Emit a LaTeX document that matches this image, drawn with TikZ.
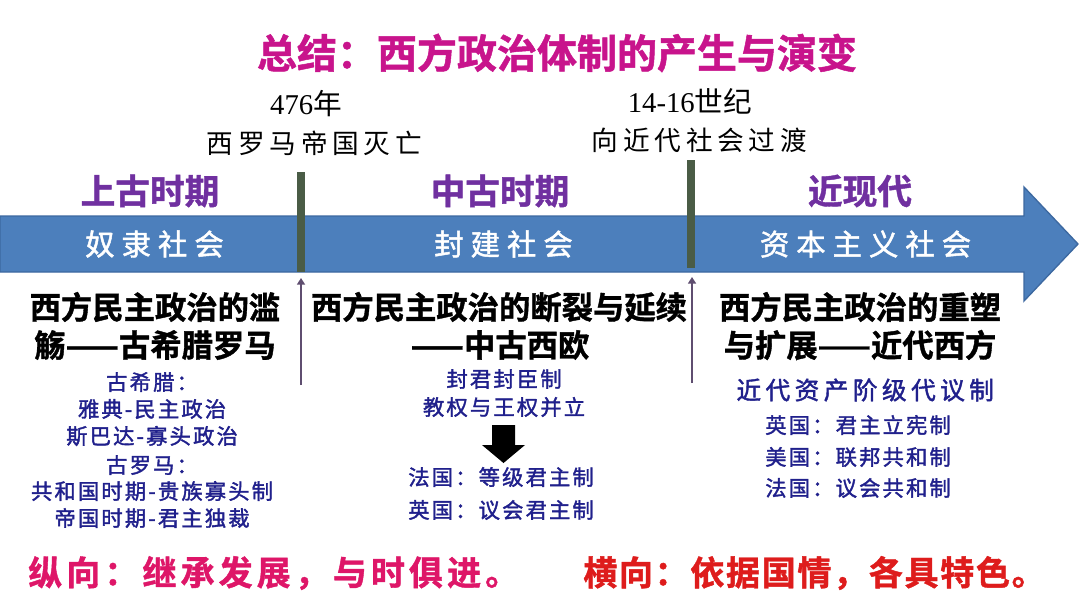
\documentclass[tikz,border=0pt]{standalone}
\usepackage{fontspec}
\setmainfont{Liberation Serif}
\newfontfamily\cjk{Noto Sans CJK SC}
\newfontfamily\cjkmed[FakeBold=1.6]{Noto Sans CJK SC}
\newfontfamily\cjkheavy[FakeBold=1.2]{Noto Sans CJK SC Bold}
\usetikzlibrary{arrows.meta}
\definecolor{titlemag}{RGB}{200,20,140}
\definecolor{perpurple}{RGB}{112,48,160}
\definecolor{arrowblue}{RGB}{76,127,188}
\definecolor{arrowedge}{RGB}{60,104,160}
\definecolor{barcol}{RGB}{74,92,70}
\definecolor{linecol}{RGB}{95,78,112}
\definecolor{navy}{RGB}{32,32,140}
\definecolor{botleft}{RGB}{222,22,104}
\definecolor{botright}{RGB}{222,28,28}
\newcommand\lsp[2]{{\addfontfeature{LetterSpace=#1}#2}\kern-\dimexpr#1\fontdimen6\font/100\relax}
\begin{document}
\begin{tikzpicture}[x=0.75pt,y=-0.75pt,
  every node/.style={inner sep=0pt},
  titlestyle/.style={font=\cjkheavy\fontsize{30}{36}\selectfont, text=titlemag},
  datestyle/.style={font=\fontsize{20}{24}\selectfont, text=black},
  datebig/.style={font=\fontsize{21.5}{25}\selectfont, text=black},
  period/.style={font=\cjkheavy\fontsize{26}{30}\selectfont, text=perpurple},
  society/.style={font=\cjkmed\fontsize{22}{26}\selectfont, text=white},
  headstyle/.style={font=\cjkheavy\fontsize{23.5}{28}\selectfont, text=black},
  bluetext/.style={font=\cjkmed\fontsize{16}{19}\selectfont, text=navy},
  bluehead/.style={font=\cjkmed\fontsize{18.5}{22}\selectfont, text=navy},
  bottomtext/.style={font=\cjkheavy\fontsize{25.5}{30}\selectfont},
  sepline/.style={draw=linecol, line width=2.2pt, -{Triangle[length=5pt,width=6pt]}}
]
\useasboundingbox (0,0) rectangle (1080,608);
\fill[white] (0,0) rectangle (1080,608);

% title
\node[titlestyle] (title) at (557,53) {总结：西方政治体制的产生与演变};

% dates
\node[datebig] (d1a) at (306,104) {476{\cjk 年}};
\node[datestyle] (d1b) at (312,143) {\cjk\lsp{18}{西罗马帝国灭亡}};
\node[datebig] (d2a) at (690,101) {14-16{\cjk 世纪}};
\node[datestyle] (d2b) at (697,140) {\cjk\lsp{18}{向近代社会过渡}};

% main arrow
\filldraw[fill=arrowblue, draw=arrowedge, line width=1pt]
  (0,216) -- (1024,216) -- (1024,187) -- (1078,244) -- (1024,301) -- (1024,272) -- (0,272) -- cycle;

% separators
\fill[barcol] (297,172) rectangle (305,272);
\fill[barcol] (687,160) rectangle (695,268);
\coordinate (s1b) at (301,385);
\coordinate (s1t) at (301,278);
\coordinate (s2b) at (692,383);
\coordinate (s2t) at (692,277);
\draw[sepline] (s1b) -- (s1t);
\draw[sepline] (s2b) -- (s2t);

% periods
\node[period] (p1) at (150,191) {上古时期};
\node[period] (p2) at (500,191) {中古时期};
\node[period] (p3) at (860,191) {近现代};

% societies
\node[society] (so1) at (151,244) {\lsp{24}{奴隶社会}};
\node[society] (so2) at (500,244) {\lsp{24}{封建社会}};
\node[society] (so3) at (862,244) {\lsp{24}{资本主义社会}};

% headings
\node[headstyle] (h1a) at (155,307) {西方民主政治的滥};
\node[headstyle] (h1b) at (155,345) {觞——古希腊罗马};
\node[headstyle] (h2a) at (499,307) {西方民主政治的断裂与延续};
\node[headstyle] (h2b) at (500,345) {——中古西欧};
\node[headstyle] (h3a) at (860,307) {西方民主政治的重塑};
\node[headstyle] (h3b) at (860,345) {与扩展——近代西方};

% column 1
\node[bluetext] (c1a) at (151,382) {\lsp{10}{古希腊：}};
\node[bluetext] (c1b) at (151,409) {\lsp{10}{雅典-民主政治}};
\node[bluetext] (c1c) at (151,436) {\lsp{10}{斯巴达-寡头政治}};
\node[bluetext] (c1d) at (151,465) {\lsp{10}{古罗马：}};
\node[bluetext] (c1e) at (151,491) {\lsp{10}{共和国时期-贵族寡头制}};
\node[bluetext] (c1f) at (151,518) {\lsp{10}{帝国时期-君主独裁}};

% column 2
\node[bluetext] (c2a) at (503,379) {\lsp{10}{封君封臣制}};
\node[bluetext] (c2b) at (503,407) {\lsp{10}{教权与王权并立}};
\fill[black] (492,425) -- (515,425) -- (515,445) -- (525,445) -- (503.5,463) -- (482,445) -- (492,445) -- cycle;
\node[bluetext, anchor=west] (c2c) at (408,477) {\lsp{10}{法国：等级君主制}};
\node[bluetext, anchor=west] (c2d) at (408,510) {\lsp{10}{英国：议会君主制}};

% column 3
\node[bluehead] (c3h) at (863,390) {\lsp{18}{近代资产阶级代议制}};
\node[bluetext, anchor=west] (c3a) at (765,425) {\lsp{10}{英国：君主立宪制}};
\node[bluetext, anchor=west] (c3b) at (765,457) {\lsp{10}{美国：联邦共和制}};
\node[bluetext, anchor=west] (c3c) at (765,488) {\lsp{10}{法国：议会共和制}};

% bottom
\node[bottomtext, text=botleft, anchor=west] (bl) at (28,573) {\lsp{12}{纵向：继承发展，与时俱进。}};
\node[bottomtext, text=botright, anchor=west] (br) at (583,573) {\lsp{5}{横向：依据国情，各具特色。}};
\end{tikzpicture}
\end{document}
